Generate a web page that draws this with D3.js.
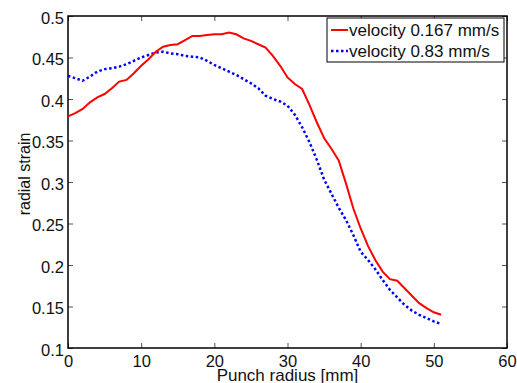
<!DOCTYPE html>
<html lang="en">
<head>
    <meta charset="UTF-8">
    <title>Radial strain vs punch radius</title>
    <script src="https://d3js.org/d3.v7.min.js"></script>
    <style>
        body {
            margin: 0;
            padding: 0;
            background-color: #ffffff;
        }
        svg {
            display: block;
            font-family: "Liberation Sans", Arial, Helvetica, sans-serif;
        }
    </style>
</head>
<body>
    <svg id="chart"></svg>

    <script>
        // punch radius in mm
        const radius = [0, 1, 2, 3, 4, 5, 6, 7, 8, 9, 10, 11, 12, 13, 14, 15, 16, 17, 18, 19, 20,
            21, 22, 23, 24, 25, 26, 27, 28, 29, 30, 31, 32, 33, 34, 35, 36, 37, 38, 39, 40,
            41, 42, 43, 44, 45, 46, 47, 48, 49, 50, 51];

        // velocity 0.167 mm/s
        const strainSlow = [0.379, 0.383, 0.388, 0.396, 0.402, 0.406, 0.413, 0.421, 0.423, 0.431, 0.440,
            0.448, 0.457, 0.463, 0.465, 0.466, 0.471, 0.476, 0.476, 0.477, 0.478,
            0.478, 0.480, 0.478, 0.473, 0.470, 0.466, 0.462, 0.452, 0.440, 0.426,
            0.418, 0.412, 0.393, 0.372, 0.353, 0.340, 0.326, 0.298, 0.268, 0.244,
            0.223, 0.206, 0.192, 0.183, 0.181, 0.172, 0.163, 0.154, 0.148, 0.143, 0.140];

        // velocity 0.83 mm/s
        const strainFast = [0.428, 0.425, 0.422, 0.427, 0.433, 0.436, 0.437, 0.439, 0.442, 0.446, 0.450,
            0.453, 0.456, 0.457, 0.455, 0.454, 0.452, 0.451, 0.450, 0.446, 0.441,
            0.437, 0.433, 0.429, 0.424, 0.419, 0.413, 0.404, 0.400, 0.397, 0.392,
            0.381, 0.366, 0.348, 0.327, 0.303, 0.286, 0.269, 0.254, 0.236, 0.216,
            0.206, 0.195, 0.182, 0.170, 0.161, 0.152, 0.145, 0.140, 0.136, 0.132, 0.129];

        const xTicks = [0, 10, 20, 30, 40, 50, 60];
        const yTicks = [0.1, 0.15, 0.2, 0.25, 0.3, 0.35, 0.4, 0.45, 0.5];
        const seriesNames = ["velocity 0.167 mm/s", "velocity 0.83 mm/s"];

        const width = 517;
        const height = 383;
        const margin = { top: 16, right: 10, bottom: 35, left: 68 };
        const innerW = 507 - margin.left;
        const innerH = 348 - margin.top;

        const svg = d3.select("#chart")
            .attr("width", width)
            .attr("height", height);

        const g = svg.append("g")
            .attr("transform", `translate(${margin.left},${margin.top})`);

        const x = d3.scaleLinear().domain([0, 60]).range([0, innerW]);
        const y = d3.scaleLinear().domain([0.1, 0.5]).range([innerH, 0]);

        const fmt = d => d3.format("~g")(d);

        // axes with inward ticks, MATLAB style
        const bottomAxis = g.append("g")
            .attr("transform", `translate(0,${innerH})`)
            .call(d3.axisBottom(x).tickValues(xTicks).tickFormat(fmt).tickSize(-5).tickPadding(7));
        const topAxis = g.append("g")
            .call(d3.axisTop(x).tickValues(xTicks).tickFormat("").tickSize(-5));
        const leftAxis = g.append("g")
            .call(d3.axisLeft(y).tickValues(yTicks).tickFormat(fmt).tickSize(-5).tickPadding(4));
        const rightAxis = g.append("g")
            .attr("transform", `translate(${innerW},0)`)
            .call(d3.axisRight(y).tickValues(yTicks).tickFormat("").tickSize(-5));

        [bottomAxis, topAxis, leftAxis, rightAxis].forEach(a => {
            a.select(".domain").remove();
            a.selectAll(".tick line").attr("stroke", "#555").attr("stroke-width", 1);
            a.selectAll(".tick text")
                .style("font-size", "16.5px")
                .style("font-family", "'Liberation Sans', Arial, sans-serif")
                .attr("fill", "#111");
        });
        leftAxis.selectAll(".tick text").attr("dy", "0.45em");

        // box
        g.append("rect")
            .attr("x", 0)
            .attr("y", 0)
            .attr("width", innerW)
            .attr("height", innerH)
            .attr("fill", "none")
            .attr("stroke", "#000")
            .attr("stroke-width", 1.5);

        const line = d3.line()
            .x((d, i) => x(radius[i]))
            .y(d => y(d));

        g.append("path")
            .datum(strainFast)
            .attr("d", line)
            .attr("fill", "none")
            .attr("stroke", "#0000ff")
            .attr("stroke-width", 2.5)
            .attr("stroke-dasharray", "2.5,2.5");

        g.append("path")
            .datum(strainSlow)
            .attr("d", line)
            .attr("fill", "none")
            .attr("stroke", "#ff0000")
            .attr("stroke-width", 2);

        // axis labels
        svg.append("text")
            .attr("x", margin.left + innerW / 2)
            .attr("y", 380.5)
            .attr("text-anchor", "middle")
            .style("font-size", "17px")
            .attr("fill", "#111")
            .text("Punch radius [mm]");

        svg.append("text")
            .attr("transform", "translate(30,174) rotate(-90)")
            .attr("text-anchor", "middle")
            .style("font-size", "16px")
            .attr("fill", "#111")
            .text("radial strain");

        // legend
        const legend = svg.append("g").attr("transform", "translate(327,18)");
        legend.append("rect")
            .attr("width", 177)
            .attr("height", 44)
            .attr("fill", "#fff")
            .attr("stroke", "#000")
            .attr("stroke-width", 1);

        const styles = [
            { color: "#ff0000", dash: null, w: 2 },
            { color: "#0000ff", dash: "2.5,2.5", w: 2.5 }
        ];
        seriesNames.forEach((name, i) => {
            const yy = 12 + i * 21;
            legend.append("line")
                .attr("x1", 4).attr("x2", 21)
                .attr("y1", yy).attr("y2", yy)
                .attr("stroke", styles[i].color)
                .attr("stroke-width", styles[i].w)
                .attr("stroke-dasharray", styles[i].dash);
            legend.append("text")
                .attr("x", 22)
                .attr("y", yy)
                .attr("dy", "0.36em")
                .style("font-size", "17px")
                .attr("fill", "#111")
                .text(name);
        });
    </script>
</body>
</html>
